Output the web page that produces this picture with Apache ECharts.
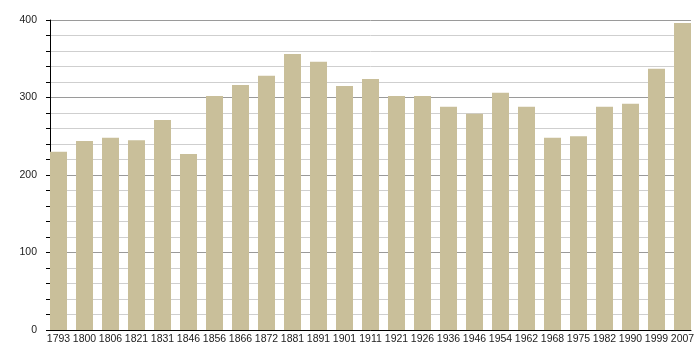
<!DOCTYPE html>
<html>
<head>
<meta charset="utf-8">
<script src="https://cdn.jsdelivr.net/npm/echarts@6/dist/echarts.min.js"></script>
<style>html,body{margin:0;padding:0;background:#fff}#c{width:700px;height:360px}</style>
</head>
<body>
<div id="c"></div>
<script>
var years = ['1793','1800','1806','1821','1831','1846','1856','1866','1872','1881','1891','1901','1911','1921','1926','1936','1946','1954','1962','1968','1975','1982','1990','1999','2007'];
var population = [230,244,248,245,271,227,302,316,328,356,346,315,324,302,302,288,279,306,288,248,250,288,292,337,396];
var yTicks = [0,100,200,300,400];

var chart = echarts.init(document.getElementById('c'), null, {renderer:'canvas'});
var font = 'Liberation Sans, Arial, sans-serif';
chart.setOption({
  animation:false,
  backgroundColor:'#fff',
  grid:[
    {left:50, right:9, top:20, bottom:30},
    {left:45.5, right:4.5, top:20, bottom:30}
  ],
  xAxis:[
    {gridIndex:0, type:'value', min:0, max:1, axisLine:{show:true,lineStyle:{color:'#000',width:1}},
     axisTick:{show:false}, axisLabel:{show:false}, splitLine:{show:false}},
    {gridIndex:1, type:'category', data:years, axisLine:{show:false}, axisTick:{show:false},
     axisLabel:{interval:0, margin:4, fontSize:10.5, color:'#222', fontFamily:font}}
  ],
  yAxis:[
    {gridIndex:0, type:'value', min:0, max:400, interval:20,
     axisLine:{show:true,lineStyle:{color:'#000',width:1}},
     axisTick:{show:true,length:4,inside:false,lineStyle:{color:'#000'}},
     axisLabel:{margin:13, fontSize:10.5, color:'#222', fontFamily:font,
       formatter:function(v){return yTicks.indexOf(v)>=0 ? String(v) : '';}},
     splitLine:{show:true,lineStyle:{color:['#9a9a9a','#cfcfcf','#cfcfcf','#cfcfcf','#cfcfcf'],width:1}}},
    {gridIndex:1, type:'value', min:0, max:400, show:false, splitLine:{show:false}}
  ],
  series:[{
    type:'bar', xAxisIndex:1, yAxisIndex:1, data:population,
    barWidth:17, itemStyle:{color:'#C9BF9A'}, z:3
  }]
});
</script>
</body>
</html>
